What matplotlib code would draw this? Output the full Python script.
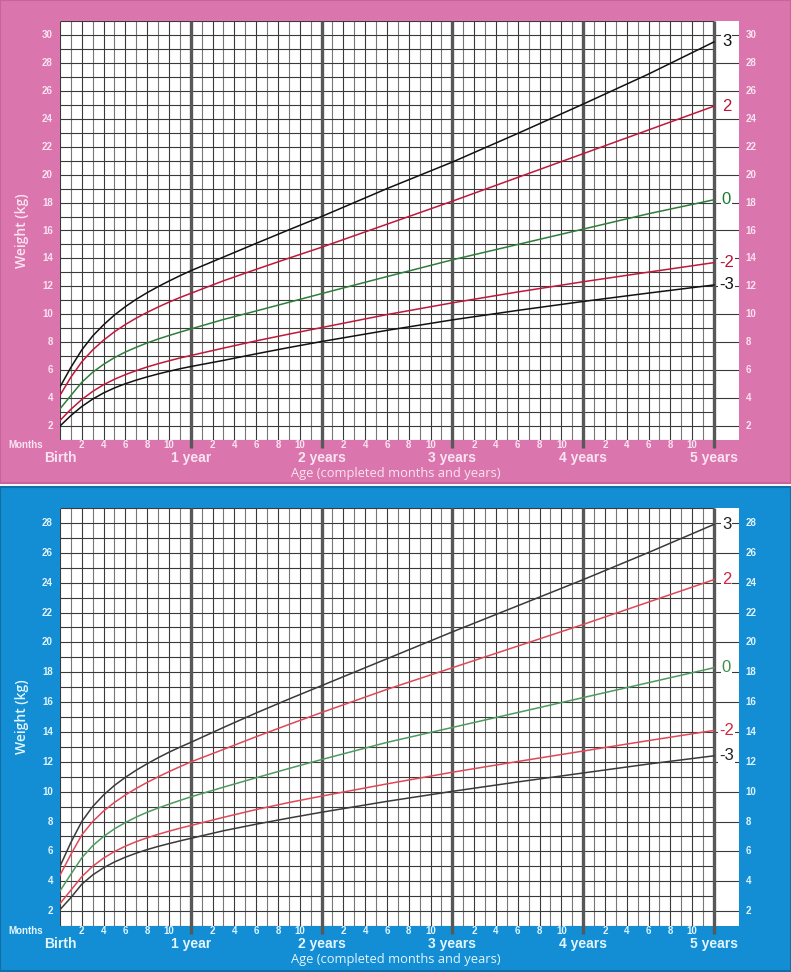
import matplotlib
matplotlib.use("Agg")
import matplotlib.pyplot as plt
import matplotlib.transforms as mtransforms
from matplotlib import font_manager
from matplotlib.patches import Rectangle

# WHO weight-for-age z-score curves (kg)
months = [0, 1, 2, 3, 4, 5, 6, 7, 8, 9, 10, 11, 12, 15, 18, 21, 24, 30, 36, 42, 48, 54, 60]

girls_p3 = [4.8, 6.2, 7.45, 8.45, 9.25, 9.95, 10.55, 11.08, 11.55, 11.98, 12.38, 12.76, 13.12, 14.1, 15.08, 16.05, 17.0, 19.0, 20.9, 22.95, 25.05, 27.2, 29.5]
girls_p2 = [4.2, 5.5, 6.6, 7.45, 8.15, 8.75, 9.27, 9.73, 10.14, 10.52, 10.87, 11.2, 11.5, 12.4, 13.22, 14.02, 14.8, 16.45, 18.1, 19.8, 21.5, 23.2, 24.9]
girls_0 = [3.23, 4.19, 5.13, 5.85, 6.42, 6.9, 7.3, 7.64, 7.95, 8.23, 8.48, 8.72, 8.95, 9.63, 10.24, 10.86, 11.48, 12.7, 13.9, 15.0, 16.1, 17.2, 18.2]
girls_m2 = [2.4, 3.2, 3.9, 4.48, 4.96, 5.35, 5.68, 5.97, 6.23, 6.46, 6.67, 6.87, 7.05, 7.58, 8.1, 8.58, 9.05, 9.98, 10.82, 11.6, 12.33, 13.02, 13.7]
girls_m3 = [2.0, 2.75, 3.4, 3.93, 4.37, 4.73, 5.03, 5.29, 5.52, 5.73, 5.92, 6.1, 6.26, 6.7, 7.17, 7.62, 8.05, 8.85, 9.6, 10.28, 10.92, 11.52, 12.1]

boys_p3 = [5.0, 6.6, 8.0, 9.0, 9.78, 10.42, 10.96, 11.44, 11.87, 12.27, 12.64, 12.98, 13.3, 14.3, 15.27, 16.2, 17.1, 18.9, 20.7, 22.45, 24.2, 26.02, 27.9]
boys_p2 = [4.4, 5.8, 7.1, 8.0, 8.7, 9.28, 9.78, 10.22, 10.62, 10.99, 11.34, 11.67, 11.99, 12.83, 13.68, 14.5, 15.3, 16.85, 18.3, 19.75, 21.2, 22.7, 24.2]
boys_0 = [3.35, 4.47, 5.57, 6.38, 7.0, 7.51, 7.93, 8.3, 8.62, 8.9, 9.16, 9.41, 9.65, 10.3, 10.93, 11.55, 12.15, 13.3, 14.3, 15.3, 16.3, 17.3, 18.3]
boys_m2 = [2.5, 3.4, 4.3, 5.0, 5.55, 5.99, 6.35, 6.65, 6.91, 7.14, 7.35, 7.55, 7.73, 8.28, 8.8, 9.27, 9.7, 10.52, 11.3, 12.02, 12.72, 13.42, 14.1]
boys_m3 = [2.1, 2.9, 3.8, 4.42, 4.9, 5.29, 5.61, 5.88, 6.12, 6.33, 6.52, 6.7, 6.87, 7.38, 7.82, 8.23, 8.62, 9.35, 10.02, 10.65, 11.25, 11.85, 12.4]

z_labels = ["3", "2", "0", "-2", "-3"]
year_labels = ["Birth", "1 year", "2 years", "3 years", "4 years", "5 years"]
month_ticks = [2, 4, 6, 8, 10]

W, H = 791, 972


def pick_font(names):
    for n in names:
        try:
            font_manager.findfont(font_manager.FontProperties(family=n),
                                  fallback_to_default=False)
            return [n, "DejaVu Sans"]
        except Exception:
            pass
    return ["DejaVu Sans"]


NARROW = pick_font(["Liberation Sans Narrow", "Liberation Sans", "Roboto"])
SANS = pick_font(["Open Sans", "Lato"])

fig = plt.figure(figsize=(W / 100, H / 100), dpi=100)
fig.patch.set_facecolor("white")


def px_box(x0, y0, x1, y1):
    return [x0 / W, 1 - y1 / H, (x1 - x0) / W, (y1 - y0) / H]


def draw_panel(p_top, p_bot, g_top, g_bot, ymax, bg, edge, txt_col, curves, colors, lab_colors):
    fig.patches.append(Rectangle((0, 1 - p_bot / H), 1, (p_bot - p_top) / H,
                                 transform=fig.transFigure, facecolor=bg,
                                 edgecolor=edge, lw=1.5, zorder=-10))

    ax = fig.add_axes(px_box(60, g_top, 739, g_bot))
    ax.set_xlim(0, 62.3)
    ax.set_ylim(1, ymax)
    ax.set_facecolor("white")
    for s in ax.spines.values():
        s.set_visible(False)
    ax.set_xticks([])
    ax.set_yticks([])

    # grid
    for m in range(0, 60):
        if m % 12 == 0 and m > 0:
            continue
        c = "#3a3a3a" if m % 2 == 0 else "#777777"
        ax.vlines(m, 1, ymax, color=c, lw=0.8, zorder=1)
    for k in range(1, ymax + 1):
        ax.hlines(k, 0, 60, color="#3a3a3a", lw=0.8, zorder=1)
        if k % 2 == 0:
            ax.hlines(k, 60, 62.3, color="#3a3a3a", lw=0.8, zorder=1)
    ext = 8 / ((g_bot - g_top) / (ymax - 1))
    for yr in range(1, 6):
        ax.vlines(yr * 12, 1 - ext, ymax, color="#585858", lw=2.4, zorder=2,
                  clip_on=False)

    # curves
    for vals, col, lab, lc in zip(curves, colors, z_labels, lab_colors):
        ax.plot(months, vals, color=col, lw=1.1, zorder=3)
        ax.text(61.15, vals[-1], lab, color=lc, fontsize=12, ha="center",
                va="center", family=NARROW, zorder=4,
                bbox=dict(facecolor="white", edgecolor="none", pad=0.6))

    # y tick labels
    for k in range(2, ymax + 1, 2):
        ax.text(-0.65, k, str(k), color=txt_col, fontsize=7, fontweight="bold",
                ha="right", va="center", family=NARROW, clip_on=False)
        ax.text(62.9, k, str(k), color=txt_col, fontsize=7, fontweight="bold",
                ha="left", va="center", family=NARROW, clip_on=False)

    # x labels
    tr = mtransforms.blended_transform_factory(ax.transData, fig.transFigure)
    for yr in range(5):
        for m in month_ticks:
            ax.text(yr * 12 + m, 1 - (g_bot + 4.5) / H, str(m), transform=tr,
                    color=txt_col, fontsize=7, fontweight="bold", ha="center",
                    va="center", family=NARROW, clip_on=False)
    for i, lab in enumerate(year_labels):
        ax.text(i * 12, 1 - (g_bot + 18) / H, lab, transform=tr, color=txt_col,
                fontsize=10, fontweight="bold", ha="center", va="center",
                family=NARROW, clip_on=False)
    fig.text(8 / W, 1 - (g_bot + 4.5) / H, "Months", color=txt_col, fontsize=7,
             fontweight="bold", ha="left", va="center", family=NARROW)
    fig.text(396 / W, 1 - (g_bot + 33) / H, "Age (completed months and years)",
             color=txt_col, fontsize=9.3, ha="center", va="center", family=SANS)
    fig.text(22 / W, 1 - ((g_top + g_bot) / 2) / H, "Weight (kg)", color=txt_col,
             fontsize=10, fontweight="semibold", rotation=90, ha="center",
             va="center", family=SANS)
    return ax


# girls panel
draw_panel(0, 483, 21, 440, 31, "#da76ad", "#c8639b", "#fbe4f1",
           [girls_p3, girls_p2, girls_0, girls_m2, girls_m3],
           ["#111111", "#c0173c", "#2f7d3a", "#c0173c", "#111111"],
           ["#111111", "#b8143a", "#1f7a2e", "#b8143a", "#111111"])

# boys panel
draw_panel(487, 971, 508, 926, 29, "#138dd3", "#0f6fa6", "#e2f5ff",
           [boys_p3, boys_p2, boys_0, boys_m2, boys_m3],
           ["#3a3a3a", "#e04858", "#4f9a60", "#e04858", "#3a3a3a"],
           ["#222222", "#d2263e", "#3f8f4e", "#d2263e", "#222222"])

fig.savefig("out.png", dpi=100)
